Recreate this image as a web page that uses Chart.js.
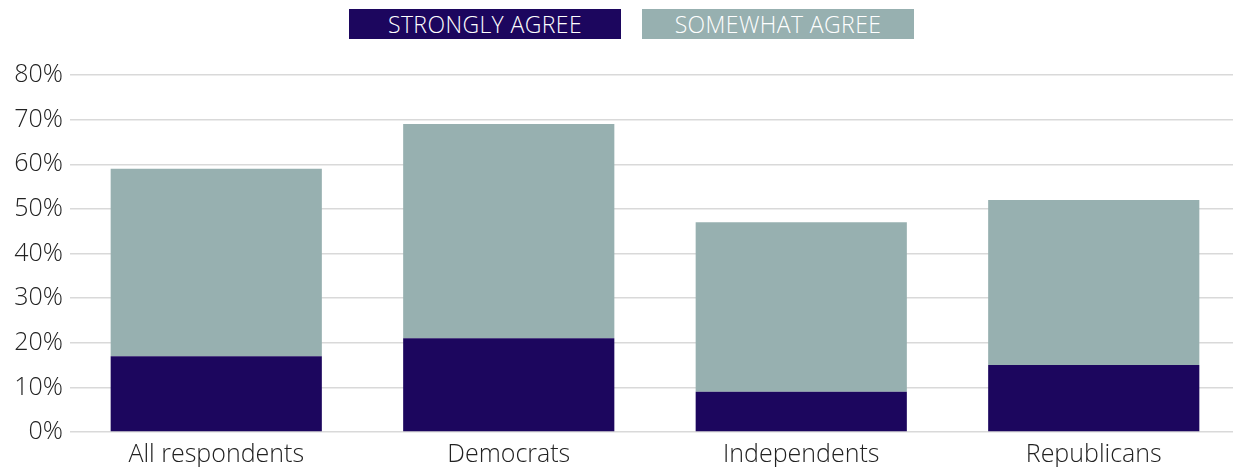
<!DOCTYPE html>
<html>
<head>
<meta charset="utf-8">
<script src="https://cdn.jsdelivr.net/npm/chart.js@4"></script>
<style>
  html, body { margin: 0; padding: 0; background: #fff; overflow: hidden; }
  body { width: 1233px; height: 467px; position: relative; font-family: "Open Sans", sans-serif; }
  .legend { position: absolute; top: 9px; left: 349px; display: flex; gap: 21px; }
  .legend span {
    display: block; width: 272px; height: 30px; line-height: 30px;
    text-align: center; color: #fff; font-size: 23px; font-weight: 300; letter-spacing: 0.4px;
  }
  #wrap { position: absolute; left: 0; top: 0; width: 1240px; height: 467px; }
</style>
</head>
<body>
<div class="legend" id="legend"></div>
<div id="wrap"><canvas id="chart"></canvas></div>
<script>
const categories = ["All respondents", "Democrats", "Independents", "Republicans"]
const stronglyAgree = [17, 21, 9, 15]
const somewhatAgree = [42, 48, 38, 37]
const seriesNames = ["STRONGLY AGREE", "SOMEWHAT AGREE"]
const colors = ["#1c065e", "#97b0b0"]

const legend = document.getElementById("legend")
seriesNames.forEach((name, i) => {
  const s = document.createElement("span")
  s.textContent = name
  s.style.background = colors[i]
  legend.appendChild(s)
})

const tickFont = { family: "'Open Sans', sans-serif", size: 25, weight: 300 }

new Chart(document.getElementById("chart"), {
  type: "bar",
  data: {
    labels: categories,
    datasets: [
      { label: seriesNames[0], data: stronglyAgree, backgroundColor: colors[0] },
      { label: seriesNames[1], data: somewhatAgree, backgroundColor: colors[1] }
    ]
  },
  options: {
    responsive: true,
    maintainAspectRatio: false,
    animation: false,
    datasets: { bar: { categoryPercentage: 0.722, barPercentage: 1 } },
    layout: { padding: { top: 75, left: 0, right: 0, bottom: 0 } },
    plugins: { legend: { display: false }, tooltip: { enabled: false } },
    scales: {
      x: {
        stacked: true,
        grid: { display: false },
        border: { display: false },
        ticks: { color: "#222", font: tickFont, padding: 0, maxRotation: 0 },
        afterFit: (scale) => { scale.height = 35 }
      },
      y: {
        stacked: true,
        min: 0,
        max: 80,
        grid: { color: "#d9d9d9", lineWidth: 1.5, drawTicks: false },
        border: { display: false },
        ticks: {
          stepSize: 10,
          color: "#222",
          font: tickFont,
          padding: 7,
          callback: (v) => v + "%"
        },
        afterFit: (scale) => { scale.width = 70 }
      }
    }
  }
})
</script>
</body>
</html>
